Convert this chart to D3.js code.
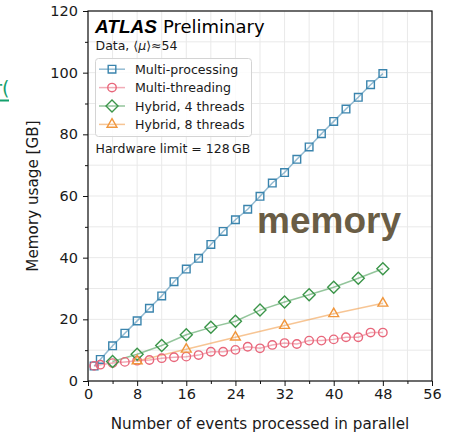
<!DOCTYPE html>
<html>
<head>
<meta charset="utf-8">
<script src="https://cdn.jsdelivr.net/npm/d3@7"></script>
<style>
  html, body { margin: 0; padding: 0; background: #fff; }
  svg { display: block; font-family: "DejaVu Sans", sans-serif; }
</style>
</head>
<body>
<svg id="chart" width="452" height="433"></svg>
<script>
// Memory usage vs number of events processed in parallel
const mpEvents = [1, 2, 4, 6, 8, 10, 12, 14, 16, 18, 20, 22, 24, 26, 28, 30, 32, 34, 36, 38, 40, 42, 44, 46, 48];
const mpMemory = [4.9, 7.0, 11.4, 15.5, 19.5, 23.6, 27.6, 32.2, 36.3, 39.8, 44.3, 48.5, 52.3, 55.7, 59.9, 64.2, 67.6, 71.9, 75.9, 80.2, 84.2, 88.2, 92.0, 96.1, 99.7];

const mtEvents = [1, 2, 4, 6, 8, 10, 12, 14, 16, 18, 20, 22, 24, 26, 28, 30, 32, 34, 36, 38, 40, 42, 44, 46, 48];
const mtMemory = [4.9, 5.3, 5.8, 6.2, 6.6, 6.8, 7.4, 7.7, 7.9, 8.4, 9.5, 9.5, 10.1, 11.1, 10.6, 11.7, 12.3, 12.0, 13.1, 13.1, 13.5, 14.2, 14.2, 15.7, 15.7];

const hy4Events = [4, 8, 12, 16, 20, 24, 28, 32, 36, 40, 44, 48];
const hy4Memory = [6.3, 8.7, 11.5, 15.0, 17.4, 19.4, 23.0, 25.6, 28.0, 30.4, 33.3, 36.4];

const hy8Events = [8, 16, 24, 32, 40, 48];
const hy8Memory = [6.5, 10.3, 14.2, 18.0, 21.8, 25.2];

const seriesNames = ["Multi-processing", "Multi-threading", "Hybrid, 4 threads", "Hybrid, 8 threads"];
const xTicks = [0, 8, 16, 24, 32, 40, 48, 56];
const xMinorTicks = [4, 12, 20, 28, 36, 44, 52];
const yTicks = [0, 20, 40, 60, 80, 100, 120];
const yMinorTicks = [10, 30, 50, 70, 90, 110];

const series = [
  { name: seriesNames[0], x: mpEvents, y: mpMemory, color: "#3a84ad", symbol: d3.symbolSquare, size: 58 },
  { name: seriesNames[1], x: mtEvents, y: mtMemory, color: "#e8677b", symbol: d3.symbolCircle, size: 56 },
  { name: seriesNames[2], x: hy4Events, y: hy4Memory, color: "#3b9549", symbol: "diamond", size: 6 },
  { name: seriesNames[3], x: hy8Events, y: hy8Memory, color: "#f0963c", symbol: d3.symbolTriangle, size: 42 }
];

const DEJAVU = "'DejaVu Sans', sans-serif";
const SANS = "'Liberation Sans', Arial, sans-serif";
const INK = "#1a1a1a";

const svg = d3.select("#chart");
const margin = { left: 88, right: 20, top: 11, bottom: 52 };
const W = 452, H = 433;

const x = d3.scaleLinear().domain([0, 56]).range([margin.left, W - margin.right]);
const y = d3.scaleLinear().domain([0, 120]).range([H - margin.bottom, margin.top]);

// grid at major and minor positions
const grid = svg.append("g").attr("stroke", "#e9e9e9").attr("stroke-width", 1);
xTicks.concat(xMinorTicks).forEach(v => {
  grid.append("line").attr("x1", x(v)).attr("x2", x(v)).attr("y1", y(0)).attr("y2", y(120));
});
yTicks.concat(yMinorTicks).forEach(v => {
  grid.append("line").attr("x1", x(0)).attr("x2", x(56)).attr("y1", y(v)).attr("y2", y(v));
});

// axes
svg.append("g").attr("transform", `translate(0,${y(0)})`)
  .call(d3.axisBottom(x).tickValues(xTicks).tickSize(5).tickPadding(3).tickFormat(d3.format("d")));
svg.append("g").attr("transform", `translate(0,${y(0)})`)
  .call(d3.axisBottom(x).tickValues(xMinorTicks).tickSize(3).tickFormat(""));
svg.append("g").attr("transform", `translate(${x(0)},0)`)
  .call(d3.axisLeft(y).tickValues(yTicks).tickSize(5).tickPadding(5).tickFormat(d3.format("d")));
svg.append("g").attr("transform", `translate(${x(0)},0)`)
  .call(d3.axisLeft(y).tickValues(yMinorTicks).tickSize(3).tickFormat(""));

svg.selectAll(".domain").remove();
svg.selectAll(".tick line").attr("stroke", "#111").attr("stroke-width", 1);
svg.selectAll(".tick text")
  .style("font-family", DEJAVU).style("font-size", "14.5px").style("fill", INK);

// frame
svg.append("rect")
  .attr("x", x(0)).attr("y", y(120))
  .attr("width", x(56) - x(0)).attr("height", y(0) - y(120))
  .attr("fill", "none").attr("stroke", "#111").attr("stroke-width", 1.2);

// axis titles
svg.append("text")
  .attr("x", (x(0) + x(56)) / 2).attr("y", 429)
  .attr("text-anchor", "middle")
  .style("font-family", DEJAVU).style("font-size", "15.2px").style("fill", INK)
  .text("Number of events processed in parallel");
svg.append("text")
  .attr("transform", `translate(38,${(y(0) + y(120)) / 2}) rotate(-90)`)
  .attr("text-anchor", "middle")
  .style("font-family", DEJAVU).style("font-size", "15.2px").style("fill", INK)
  .text("Memory usage [GB]");

function markerPath(s) {
  if (s.symbol === "diamond") {
    const r = s.size;
    return `M0,${-r}L${r},0L0,${r}L${-r},0Z`;
  }
  return d3.symbol().type(s.symbol).size(s.size)();
}

// series lines and hollow markers
const plot = svg.append("g");
series.forEach(s => {
  const pts = s.x.map((v, i) => [v, s.y[i]]);
  plot.append("path")
    .datum(pts)
    .attr("fill", "none")
    .attr("stroke", s.color)
    .attr("stroke-opacity", 0.55)
    .attr("stroke-width", 1.5)
    .attr("d", d3.line().x(d => x(d[0])).y(d => y(d[1])));
});
series.forEach(s => {
  const pts = s.x.map((v, i) => [v, s.y[i]]);
  plot.append("g").selectAll("path")
    .data(pts)
    .join("path")
    .attr("transform", d => `translate(${x(d[0])},${y(d[1])})`)
    .attr("d", markerPath(s))
    .attr("fill", "none")
    .attr("stroke", s.color)
    .attr("stroke-width", 1.4);
});

// header labels
const head = svg.append("text").attr("x", 95).attr("y", 32.5).style("fill", "#000");
head.append("tspan")
  .style("font-family", SANS).style("font-weight", "bold").style("font-style", "italic")
  .style("font-size", "19px")
  .text("ATLAS");
head.append("tspan").attr("dx", 6)
  .style("font-family", DEJAVU).style("font-size", "18px")
  .text("Preliminary");

const dataLabel = svg.append("text").attr("x", 95.5).attr("y", 50)
  .style("font-family", DEJAVU).style("font-size", "12.5px").style("fill", INK);
dataLabel.append("tspan").text("Data, \u27E8");
dataLabel.append("tspan").style("font-style", "italic").text("\u03BC");
dataLabel.append("tspan").text("\u27E9\u224854");

// legend
const leg = svg.append("g");
leg.append("rect")
  .attr("x", 95.5).attr("y", 58.5).attr("width", 156).attr("height", 78)
  .attr("rx", 3).attr("fill", "#fff").attr("fill-opacity", 0.85)
  .attr("stroke", "#d4d4d4").attr("stroke-width", 1);
series.forEach((s, i) => {
  const cy = 69.2 + i * 18.4;
  leg.append("line").attr("x1", 99).attr("x2", 125).attr("y1", cy).attr("y2", cy)
    .attr("stroke", s.color).attr("stroke-opacity", 0.55).attr("stroke-width", 1.5);
  leg.append("path").attr("transform", `translate(112,${cy})`).attr("d", markerPath(s))
    .attr("fill", "none").attr("stroke", s.color).attr("stroke-width", 1.4);
  leg.append("text").attr("x", 135).attr("y", cy + 4.5)
    .style("font-family", DEJAVU).style("font-size", "12.6px").style("fill", INK)
    .text(s.name);
});

svg.append("text").attr("x", 95.5).attr("y", 153)
  .style("font-family", DEJAVU).style("font-size", "12.5px").style("fill", INK)
  .text("Hardware limit = 128\u2009GB");

// overlay word
svg.append("text")
  .attr("x", 257).attr("y", 232.5)
  .style("font-family", SANS).style("font-weight", "bold").style("font-size", "37px")
  .style("fill", "#6a5d45")
  .text("memory");

// green link fragment at the left edge
svg.append("text")
  .attr("x", 9.5).attr("y", 95).attr("text-anchor", "end")
  .style("font-family", DEJAVU).style("font-size", "19px").style("fill", "#14a06d")
  .text("r(");
svg.append("rect").attr("x", 0).attr("y", 99.5).attr("width", 9).attr("height", 2).attr("fill", "#14a06d");
</script>
</body>
</html>
